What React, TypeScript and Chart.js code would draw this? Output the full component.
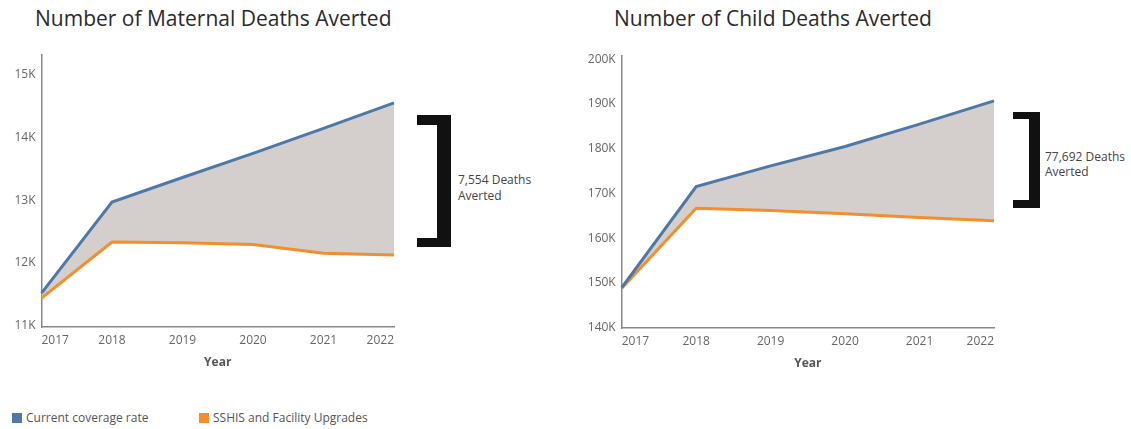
import React, { useEffect, useRef } from "react";
import { Chart, registerables } from "chart.js";

Chart.register(...registerables);

const years = ["2017", "2018", "2019", "2020", "2021", "2022"];
const maternalCurrent = [11520, 12973, 13365, 13750, 14148, 14557];
const maternalUpgrades = [11440, 12335, 12324, 12298, 12155, 12128];
const childCurrent = [148900, 171520, 176145, 180460, 185460, 190670];
const childUpgrades = [148800, 166690, 166160, 165420, 164590, 163850];

const maternalTicks = [11000, 12000, 13000, 14000, 15000];
const childTicks = [140000, 150000, 160000, 170000, 180000, 190000, 200000];

const seriesNames = ["Current coverage rate", "SSHIS and Facility Upgrades"];
const titles = ["Number of Maternal Deaths Averted", "Number of Child Deaths Averted"];
const annotations = [["7,554 Deaths", "Averted"], ["77,692 Deaths", "Averted"]];
const xTitle = "Year";

const BLUE = "#4e79a7";
const ORANGE = "#f28e2b";
const FILL = "#d4cfcd";
const FONT = "'Open Sans', 'Noto Sans', sans-serif";

function makeConfig(
  current: number[],
  upgrades: number[],
  min: number,
  max: number,
  tickValues: number[],
  yWidth: number,
  padTop: number,
  xHeight: number
): any {
  return {
    type: "line",
    data: {
      labels: years,
      datasets: [
        {
          label: seriesNames[0],
          data: current,
          borderColor: BLUE,
          backgroundColor: FILL,
          borderWidth: 3,
          pointRadius: 0,
          tension: 0,
          fill: { target: 1 },
        },
        {
          label: seriesNames[1],
          data: upgrades,
          borderColor: ORANGE,
          backgroundColor: ORANGE,
          borderWidth: 3,
          pointRadius: 0,
          tension: 0,
          fill: false,
        },
      ],
    },
    options: {
      responsive: false,
      animation: false,
      layout: { padding: { left: 0, top: padTop, right: 4, bottom: 0 } },
      plugins: {
        legend: { display: false },
        tooltip: { enabled: false },
        filler: { drawTime: "beforeDatasetsDraw" },
      },
      scales: {
        x: {
          type: "category",
          offset: false,
          grid: { display: false, drawTicks: false },
          border: { display: true, color: "#888", width: 1.5 },
          ticks: {
            align: "inner",
            padding: 6,
            color: "#666",
            maxRotation: 0,
            autoSkip: false,
            font: { family: FONT, size: 12 },
          },
          title: {
            display: true,
            text: xTitle,
            color: "#555",
            font: { family: FONT, size: 12, weight: "bold" },
            padding: { top: 4, bottom: 4 },
          },
          afterFit: (s: any) => {
            s.height = xHeight;
          },
        },
        y: {
          min,
          max,
          grid: { display: false, drawTicks: false },
          border: { display: true, color: "#888", width: 1.5 },
          ticks: {
            padding: 6,
            color: "#666",
            font: { family: FONT, size: 12 },
            callback: (v: any) => Math.round(Number(v) / 1000) + "K",
          },
          afterBuildTicks: (s: any) => {
            s.ticks = tickValues.map((value) => ({ value }));
          },
          afterFit: (s: any) => {
            s.width = yWidth;
          },
        },
      },
    },
  };
}

function LineChart(props: { config: any; left: number; top: number; width: number; height: number }) {
  const ref = useRef<HTMLCanvasElement | null>(null);
  useEffect(() => {
    if (!ref.current) return;
    const chart = new Chart(ref.current, props.config);
    return () => chart.destroy();
  }, []);
  return (
    <canvas
      ref={ref}
      width={props.width}
      height={props.height}
      style={{ position: "absolute", left: props.left, top: props.top, width: props.width, height: props.height }}
    />
  );
}

const textBase: React.CSSProperties = { position: "absolute", fontFamily: FONT, whiteSpace: "nowrap" };

export default function App() {
  useEffect(() => {
    document.body.style.margin = "0";
    document.body.style.background = "#fff";
  }, []);
  const leftCfg = makeConfig(maternalCurrent, maternalUpgrades, 10980, 15320, maternalTicks, 41.5, 55, 47);
  const rightCfg = makeConfig(childCurrent, childUpgrades, 139900, 200700, childTicks, 41.7, 56, 47);
  const titleStyle: React.CSSProperties = { ...textBase, top: 6, fontSize: 21, lineHeight: "25px", fontWeight: 500, color: "#2a2a2a" };
  return (
    <div style={{ position: "absolute", left: 0, top: 0, width: 1131, height: 429, background: "#fff", overflow: "hidden" }}>
      <div style={{ ...titleStyle, left: 35 }}>{titles[0]}</div>
      <div style={{ ...titleStyle, left: 614 }}>{titles[1]}</div>

      <LineChart config={leftCfg} left={0} top={0} width={400} height={374} />
      <LineChart config={rightCfg} left={580} top={0} width={420} height={375} />

      <div style={{ position: "absolute", left: 417, top: 115, width: 34, height: 132, boxSizing: "border-box", borderTop: "10px solid #111", borderBottom: "9px solid #111", borderRight: "14px solid #111" }} />
      <div style={{ ...textBase, left: 458, top: 172, fontSize: 12, lineHeight: "16px", color: "#444" }}>
        {annotations[0][0]}<br />{annotations[0][1]}
      </div>

      <div style={{ position: "absolute", left: 1013, top: 112, width: 27, height: 96, boxSizing: "border-box", borderTop: "7px solid #111", borderBottom: "8px solid #111", borderRight: "11px solid #111" }} />
      <div style={{ ...textBase, left: 1045, top: 149, fontSize: 12, lineHeight: "15px", color: "#444" }}>
        {annotations[1][0]}<br />{annotations[1][1]}
      </div>

      <div style={{ position: "absolute", left: 12, top: 413, width: 10, height: 10, background: BLUE }} />
      <div style={{ ...textBase, left: 26, top: 410, fontSize: 12, lineHeight: "16px", color: "#555" }}>{seriesNames[0]}</div>
      <div style={{ position: "absolute", left: 199, top: 413, width: 10, height: 10, background: ORANGE }} />
      <div style={{ ...textBase, left: 213, top: 410, fontSize: 12, lineHeight: "16px", color: "#555" }}>{seriesNames[1]}</div>
    </div>
  );
}
